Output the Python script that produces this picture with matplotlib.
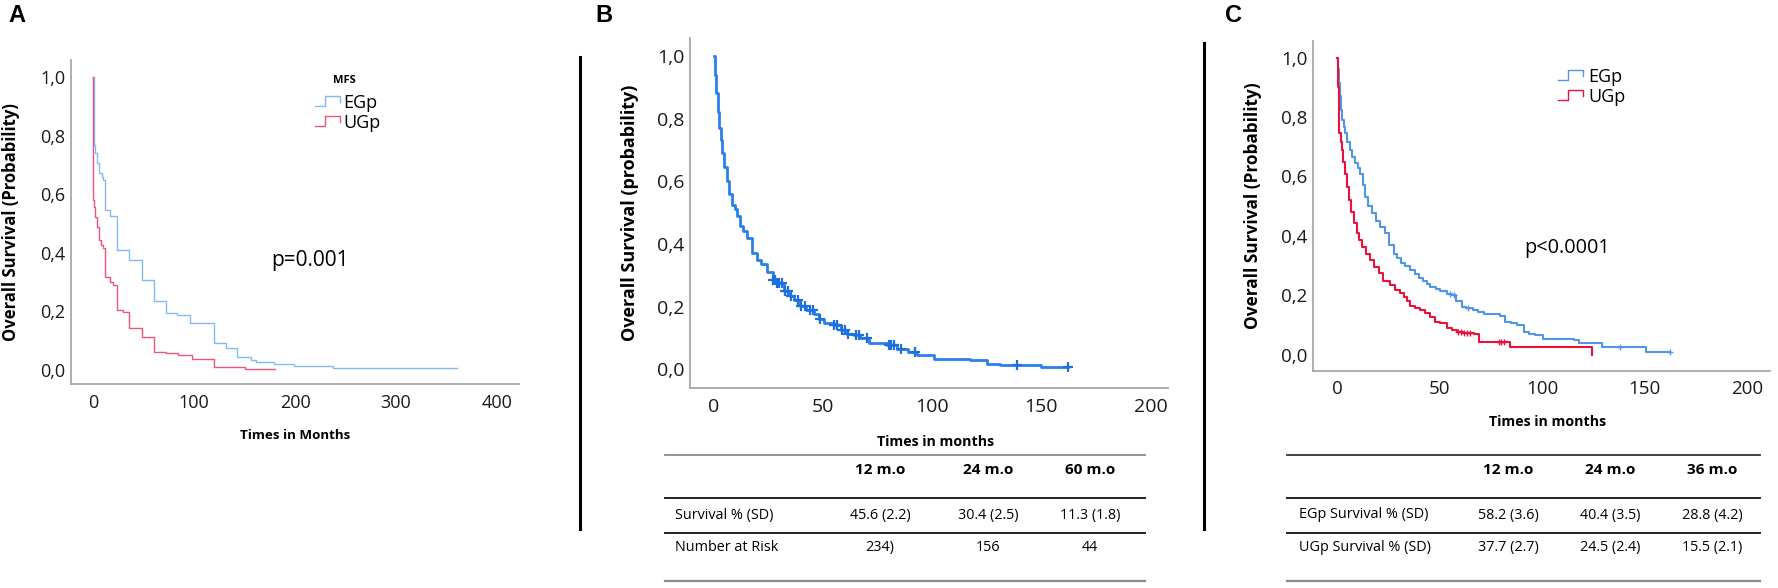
import matplotlib
matplotlib.use("Agg")
import matplotlib.pyplot as plt
import numpy as np
from matplotlib.legend_handler import HandlerBase
from matplotlib.lines import Line2D

plt.rcParams["font.family"] = ["Open Sans", "DejaVu Sans"]

# ---- data ----
# panel A (MFS)
a_egp_t = [0, 0.5, 2, 3.6, 6, 8.5, 10, 12, 17, 23.5, 36, 48, 60, 72, 83, 96, 120,
           132, 143, 156, 161, 179, 199, 238, 360]
a_egp_s = [1.0, 0.768, 0.74, 0.705, 0.671, 0.66, 0.648, 0.546, 0.526, 0.41, 0.375,
           0.307, 0.235, 0.193, 0.188, 0.159, 0.093, 0.074, 0.045, 0.034, 0.028,
           0.019, 0.015, 0.008, 0.008]
a_ugp_t = [0, 0.3, 0.9, 2.2, 3.6, 5.6, 8.3, 10, 12, 17, 20, 23.5, 30, 36, 48, 60,
           72, 84.5, 97.7, 120, 150.5, 180]
a_ugp_s = [1.0, 0.58, 0.557, 0.523, 0.489, 0.444, 0.427, 0.415, 0.318, 0.301, 0.29,
           0.205, 0.199, 0.144, 0.114, 0.062, 0.057, 0.051, 0.036, 0.011, 0.004, 0.004]

# panel B (all patients)
b_t = [0, 0.5, 0.9, 1.6, 2.3, 3.0, 3.8, 4.8, 5.8, 7, 8.4, 9.5, 10.7, 12, 13.5, 15,
       17.6, 19.6, 21.4, 24.2, 26.8, 28.8, 32, 34.9, 36.7, 39.5, 42, 45.6, 48, 50.2,
       54.8, 58, 60.9, 64, 67, 70.8, 79.2, 83.8, 88.7, 92.9, 100.6, 117.4, 125, 131,
       150, 162.4]
b_s = [1.0, 0.94, 0.88, 0.82, 0.77, 0.73, 0.69, 0.645, 0.60, 0.56, 0.525, 0.51, 0.49,
       0.456, 0.44, 0.42, 0.37, 0.35, 0.335, 0.31, 0.285, 0.275, 0.25, 0.235, 0.22,
       0.203, 0.19, 0.175, 0.16, 0.148, 0.14, 0.125, 0.113, 0.108, 0.1, 0.083, 0.078,
       0.066, 0.055, 0.045, 0.033, 0.029, 0.018, 0.012, 0.007, 0.007]
b_cens = [27, 28, 29, 30, 31, 32.5, 34, 35.5, 38.5, 40, 41.5, 44, 45.5, 48.7, 55,
          56.5, 58.5, 60, 61.5, 65, 66.5, 70, 80, 81, 82.5, 85.5, 92, 139, 162.4]

# panel C (EGp vs UGp)
c_egp_t = [0, 0.4, 0.7, 1.2, 1.8, 2.5, 3.2, 3.9, 5, 6.3, 7.5, 8.8, 10, 11.2, 12.4,
           13.7, 15.3, 16.9, 19, 21, 23.4, 25.5, 27.5, 29, 31, 33, 35.6, 38, 40, 42,
           43.7, 45.4, 48, 50, 53.5, 55.9, 58, 60.8, 63, 66, 68.5, 71.4, 75, 79.5, 82,
           85, 87.7, 90.9, 93.5, 96.6, 100.6, 115.3, 117.7, 129, 150.6, 162.4]
c_egp_s = [1.0, 0.96, 0.913, 0.87, 0.823, 0.79, 0.765, 0.745, 0.715, 0.689, 0.665,
           0.644, 0.63, 0.61, 0.57, 0.532, 0.5, 0.476, 0.45, 0.431, 0.409, 0.37, 0.341,
           0.325, 0.31, 0.298, 0.285, 0.272, 0.26, 0.25, 0.24, 0.229, 0.222, 0.215,
           0.205, 0.2, 0.18, 0.162, 0.157, 0.15, 0.145, 0.139, 0.136, 0.131, 0.111,
           0.106, 0.1, 0.078, 0.072, 0.067, 0.055, 0.05, 0.039, 0.027, 0.01, 0.01]
c_ugp_t = [0, 0.3, 0.7, 1.1, 1.7, 2.3, 3.1, 3.9, 5, 6, 7, 8, 9.6, 10.8, 12, 14, 16.1,
           18, 20.2, 22.5, 25.9, 28, 30.7, 32.5, 34, 35.6, 38, 40.5, 43, 45.4, 47.8,
           50.2, 53.5, 56, 58.4, 62, 66.5, 69, 84.4, 124.2]
c_ugp_s = [1.0, 0.902, 0.82, 0.745, 0.715, 0.689, 0.65, 0.61, 0.565, 0.52, 0.48,
           0.442, 0.409, 0.385, 0.364, 0.34, 0.319, 0.295, 0.274, 0.25, 0.235, 0.22,
           0.207, 0.195, 0.18, 0.165, 0.158, 0.15, 0.14, 0.128, 0.111, 0.106, 0.089,
           0.083, 0.078, 0.075, 0.072, 0.044, 0.027, 0.0]
c_egp_cens = [55, 57, 64, 138, 162.4]
c_ugp_cens = [59, 60.5, 62, 63.5, 65, 79, 80, 81.5]

y_ticks = [0.0, 0.2, 0.4, 0.6, 0.8, 1.0]
y_tick_labels = ["0,0", "0,2", "0,4", "0,6", "0,8", "1,0"]
a_x_ticks = [0, 100, 200, 300, 400]
bc_x_ticks = [0, 50, 100, 150, 200]

b_cols = ["12 m.o", "24 m.o", "60 m.o"]
b_rows = ["Survival % (SD)", "Number at Risk"]
b_cells = [["45.6 (2.2)", "30.4 (2.5)", "11.3 (1.8)"],
           ["234)", "156", "44"]]
c_cols = ["12 m.o", "24 m.o", "36 m.o"]
c_rows = ["EGp Survival % (SD)", "UGp Survival % (SD)"]
c_cells = [["58.2 (3.6)", "40.4 (3.5)", "28.8 (4.2)"],
           ["37.7 (2.7)", "24.5 (2.4)", "15.5 (2.1)"]]

W, H = 1778, 588
fig = plt.figure(figsize=(W / 100, H / 100), dpi=100)


def fx(x):
    return x / W


def fy(y):
    return 1 - y / H


def at(t, s, when):
    idx = np.searchsorted(t, when, side="right") - 1
    return np.asarray(s)[idx]


class StepHandler(HandlerBase):
    def create_artists(self, legend, orig_handle, xdescent, ydescent, width, height,
                       fontsize, trans):
        xs = np.array([0, 0.4, 0.4, 1.0, 1.0]) * width - xdescent
        ys = np.array([0.15, 0.15, 0.95, 0.95, 0.45]) * height - ydescent
        ln = Line2D(xs, ys, color=orig_handle.get_color(), lw=1.0, transform=trans)
        return [ln]


def style(ax, xlim, ylim, xticks, tick_fs):
    for side in ["top", "right"]:
        ax.spines[side].set_visible(False)
    for side in ["left", "bottom"]:
        ax.spines[side].set_color("#a8a8a8")
        ax.spines[side].set_linewidth(1.3)
    ax.set_xlim(*xlim)
    ax.set_ylim(*ylim)
    ax.set_xticks(xticks)
    ax.set_yticks(y_ticks)
    ax.set_yticklabels(y_tick_labels)
    ax.tick_params(axis="both", length=0, labelsize=tick_fs, colors="#1a1a1a")
    ax.tick_params(axis="x", pad=7)
    ax.tick_params(axis="y", pad=4)


# ---------------- panel A ----------------
axA = fig.add_axes([fx(70.7), fy(384), 448.6 / W, 324 / H])
style(axA, (-22.1, 422), (-0.048, 1.058), a_x_ticks, 13)
hA1, = axA.plot(a_egp_t, a_egp_s, drawstyle="steps-post", color="#86b9f2", lw=1.0)
hA2, = axA.plot(a_ugp_t, a_ugp_s, drawstyle="steps-post", color="#f05478", lw=1.0)
axA.text(215, 0.375, "p=0.001", fontsize=15, ha="center", va="center")
axA.set_ylabel("Overall Survival (Probability)", fontsize=12, fontweight="bold")
axA.yaxis.set_label_coords(-0.113, 0.5)
axA.set_xlabel("Times in Months", fontsize=9.6, fontweight="bold")
axA.xaxis.set_label_coords(0.5, -0.139)
axA.text(0.609, 0.938, "MFS", transform=axA.transAxes, fontsize=8, fontweight="bold",
         ha="center", va="center")
axA.legend([hA1, hA2], ["EGp", "UGp"], frameon=False,
           loc="upper left", bbox_to_anchor=(0.545, 0.895), borderaxespad=0,
           borderpad=0, fontsize=13, handlelength=1.4, handletextpad=0.15,
           labelspacing=0.1, handler_map={Line2D: StepHandler()})

# ---------------- panel B ----------------
axB = fig.add_axes([fx(690), fy(388.3), 478 / W, 350 / H])
style(axB, (-11, 208), (-0.061, 1.056), bc_x_ticks, 14)
axB.plot(b_t, b_s, drawstyle="steps-post", color="#2a80ea", lw=2.0)
axB.plot(b_cens, at(b_t, b_s, b_cens), ls="none", marker="+", ms=7, mew=1.6,
         color="#1f6fe0")
axB.set_ylabel("Overall Survival (probability)", fontsize=13, fontweight="bold")
axB.yaxis.set_label_coords(-0.107, 0.5)
axB.set_xlabel("Times in months", fontsize=10.2, fontweight="bold")
axB.xaxis.set_label_coords(0.513, -0.133)

# ---------------- panel C ----------------
axC = fig.add_axes([fx(1313.3), fy(370.7), 456.7 / W, 330 / H])
style(axC, (-11.6, 211), (-0.053, 1.0565), bc_x_ticks, 13.5)
hC1, = axC.plot(c_egp_t, c_egp_s, drawstyle="steps-post", color="#4f96e8", lw=1.5)
hC2, = axC.plot(c_ugp_t, c_ugp_s, drawstyle="steps-post", color="#e8123c", lw=1.5)
axC.plot(c_egp_cens, at(c_egp_t, c_egp_s, c_egp_cens), ls="none", marker="+", ms=4,
         mew=1.0, color="#4f96e8")
axC.plot(c_ugp_cens, at(c_ugp_t, c_ugp_s, c_ugp_cens), ls="none", marker="+", ms=4,
         mew=1.0, color="#e8123c")
axC.text(112, 0.358, "p<0.0001", fontsize=14.3, ha="center", va="center")
axC.set_ylabel("Overall Survival (Probability)", fontsize=12.4, fontweight="bold")
axC.yaxis.set_label_coords(-0.113, 0.5)
axC.set_xlabel("Times in months", fontsize=10.2, fontweight="bold")
axC.xaxis.set_label_coords(0.514, -0.135)
axC.legend([hC1, hC2], ["EGp", "UGp"], frameon=False, loc="upper left",
           bbox_to_anchor=(0.535, 0.918), borderaxespad=0, borderpad=0, fontsize=13,
           handlelength=1.4, handletextpad=0.3, labelspacing=0.1,
           handler_map={Line2D: StepHandler()})

# ---------------- panel letters & separators ----------------
for letter, x in [("A", 17), ("B", 604), ("C", 1234)]:
    fig.text(fx(x), fy(15), letter, fontsize=17, fontweight="bold", ha="center",
             va="center", family=["Liberation Sans", "DejaVu Sans"])
for x, y0 in [(580, 57), (1204, 43)]:
    fig.add_artist(Line2D([fx(x), fx(x)], [fy(y0), fy(529)], color="black", lw=2.2))


# ---------------- tables ----------------
def table(x_left, x_right, label_x, col_x, cols, rows, cells, top_color):
    lines = [(455, top_color, 1.3), (498.3, "#222222", 1.4), (532.7, "#222222", 1.4),
             (580.7, "#8a8a8a", 1.6)]
    for y, c, lw in lines:
        fig.add_artist(Line2D([fx(x_left), fx(x_right)], [fy(y), fy(y)], color=c, lw=lw))
    for cx, name in zip(col_x, cols):
        fig.text(fx(cx), fy(470), name, fontsize=11, fontweight="bold", ha="center",
                 va="center")
    for ry, rname, vals in zip([515, 547.5], rows, cells):
        fig.text(fx(label_x), fy(ry), rname, fontsize=10.4, ha="left", va="center")
        for cx, v in zip(col_x, vals):
            fig.text(fx(cx), fy(ry), v, fontsize=10.4, ha="center", va="center")


table(665, 1145, 675, [880, 988, 1090], b_cols, b_rows, b_cells, "#8a8a8a")
table(1287, 1760, 1299, [1508, 1610, 1712], c_cols, c_rows, c_cells, "#333333")

fig.savefig("out.png", dpi=100)
